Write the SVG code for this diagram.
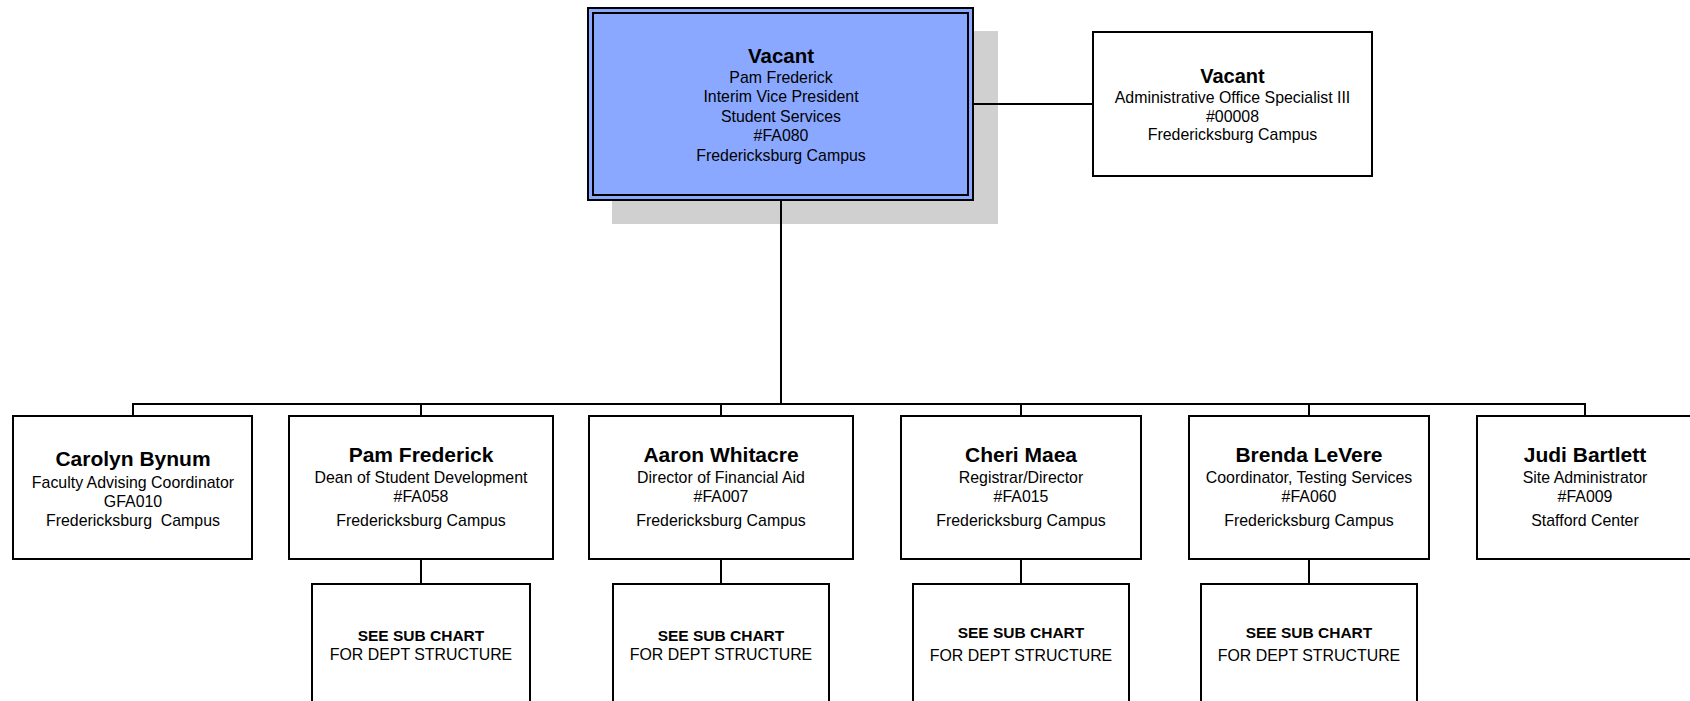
<svg xmlns="http://www.w3.org/2000/svg" width="1690" height="701" viewBox="0 0 1690 701">
<style>
.box{fill:#ffffff;stroke:#000000;stroke-width:2}
.ln{fill:none;stroke:#000000;stroke-width:2}
text{font-family:"Liberation Sans",Arial,sans-serif;fill:#000000;text-anchor:middle}
.t{font-size:21px;font-weight:bold}
.s{font-size:15.9px}
.b{font-size:15.5px;font-weight:bold}
</style>
<rect width="1690" height="701" fill="#ffffff"/>
<g id="vp">
<rect x="612" y="31" width="386" height="193" fill="#d0d0d0"/>
<rect x="588" y="8" width="385" height="192" fill="#8aa8ff" stroke="#000" stroke-width="2"/>
<rect x="593" y="13" width="375" height="182" fill="none" stroke="#000" stroke-width="2"/>
<text class="t" x="781" y="63" style="font-size:20.5px">Vacant</text>
<text class="s" x="781" y="83">Pam Frederick</text>
<text class="s" x="781" y="102">Interim Vice President</text>
<text class="s" x="781" y="121.5">Student Services</text>
<text class="s" x="781" y="140.5">#FA080</text>
<text class="s" x="781" y="160.5">Fredericksburg Campus</text>
</g>
<g id="admin">
<rect class="box" x="1093" y="32" width="279" height="144"/>
<text class="t" x="1232.5" y="83" style="font-size:20px">Vacant</text>
<text class="s" x="1232.5" y="103">Administrative Office Specialist III</text>
<text class="s" x="1232.5" y="122">#00008</text>
<text class="s" x="1232.5" y="140">Fredericksburg Campus</text>
</g>
<g id="bynum">
<rect class="box" x="13" y="416" width="239" height="143"/>
<text class="t" x="133" y="466">Carolyn Bynum</text>
<text class="s" x="133" y="488">Faculty Advising Coordinator</text>
<text class="s" x="133" y="507">GFA010</text>
<text class="s" x="133" y="526">Fredericksburg&#160; Campus</text>
</g>
<g id="frederick">
<rect class="box" x="289" y="416" width="264" height="143"/>
<text class="t" x="421" y="462">Pam Frederick</text>
<text class="s" x="421" y="483">Dean of Student Development</text>
<text class="s" x="421" y="502">#FA058</text>
<text class="s" x="421" y="526">Fredericksburg Campus</text>
</g>
<g id="whitacre">
<rect class="box" x="589" y="416" width="264" height="143"/>
<text class="t" x="721" y="462">Aaron Whitacre</text>
<text class="s" x="721" y="483">Director of Financial Aid</text>
<text class="s" x="721" y="502">#FA007</text>
<text class="s" x="721" y="526">Fredericksburg Campus</text>
</g>
<g id="maea">
<rect class="box" x="901" y="416" width="240" height="143"/>
<text class="t" x="1021" y="462">Cheri Maea</text>
<text class="s" x="1021" y="483">Registrar/Director</text>
<text class="s" x="1021" y="502">#FA015</text>
<text class="s" x="1021" y="526">Fredericksburg Campus</text>
</g>
<g id="levere">
<rect class="box" x="1189" y="416" width="240" height="143"/>
<text class="t" x="1309" y="462">Brenda LeVere</text>
<text class="s" x="1309" y="483">Coordinator, Testing Services</text>
<text class="s" x="1309" y="502">#FA060</text>
<text class="s" x="1309" y="526">Fredericksburg Campus</text>
</g>
<g id="bartlett">
<rect class="box" x="1477" y="416" width="216" height="143"/>
<text class="t" x="1585" y="462">Judi Bartlett</text>
<text class="s" x="1585" y="483">Site Administrator</text>
<text class="s" x="1585" y="502">#FA009</text>
<text class="s" x="1585" y="526">Stafford Center</text>
</g>
<g id="sub1">
<rect class="box" x="312" y="584" width="218" height="140"/>
<text class="b" x="421" y="641">SEE SUB CHART</text>
<text class="s" x="421" y="660">FOR DEPT STRUCTURE</text>
</g>
<g id="sub2">
<rect class="box" x="613" y="584" width="216" height="140"/>
<text class="b" x="721" y="641">SEE SUB CHART</text>
<text class="s" x="721" y="660">FOR DEPT STRUCTURE</text>
</g>
<g id="sub3">
<rect class="box" x="913" y="584" width="216" height="140"/>
<text class="b" x="1021" y="638">SEE SUB CHART</text>
<text class="s" x="1021" y="661">FOR DEPT STRUCTURE</text>
</g>
<g id="sub4">
<rect class="box" x="1201" y="584" width="216" height="140"/>
<text class="b" x="1309" y="638">SEE SUB CHART</text>
<text class="s" x="1309" y="661">FOR DEPT STRUCTURE</text>
</g>
<g id="connectors">
<line class="ln" x1="781" y1="201" x2="781" y2="404"/>
<line class="ln" x1="974" y1="104" x2="1093" y2="104"/>
<line class="ln" x1="132" y1="404" x2="1586" y2="404"/>
<line class="ln" x1="133" y1="404" x2="133" y2="416"/>
<line class="ln" x1="421" y1="404" x2="421" y2="416"/>
<line class="ln" x1="721" y1="404" x2="721" y2="416"/>
<line class="ln" x1="1021" y1="404" x2="1021" y2="416"/>
<line class="ln" x1="1309" y1="404" x2="1309" y2="416"/>
<line class="ln" x1="1585" y1="404" x2="1585" y2="416"/>
<line class="ln" x1="421" y1="559" x2="421" y2="584"/>
<line class="ln" x1="721" y1="559" x2="721" y2="584"/>
<line class="ln" x1="1021" y1="559" x2="1021" y2="584"/>
<line class="ln" x1="1309" y1="559" x2="1309" y2="584"/>
</g>
</svg>
